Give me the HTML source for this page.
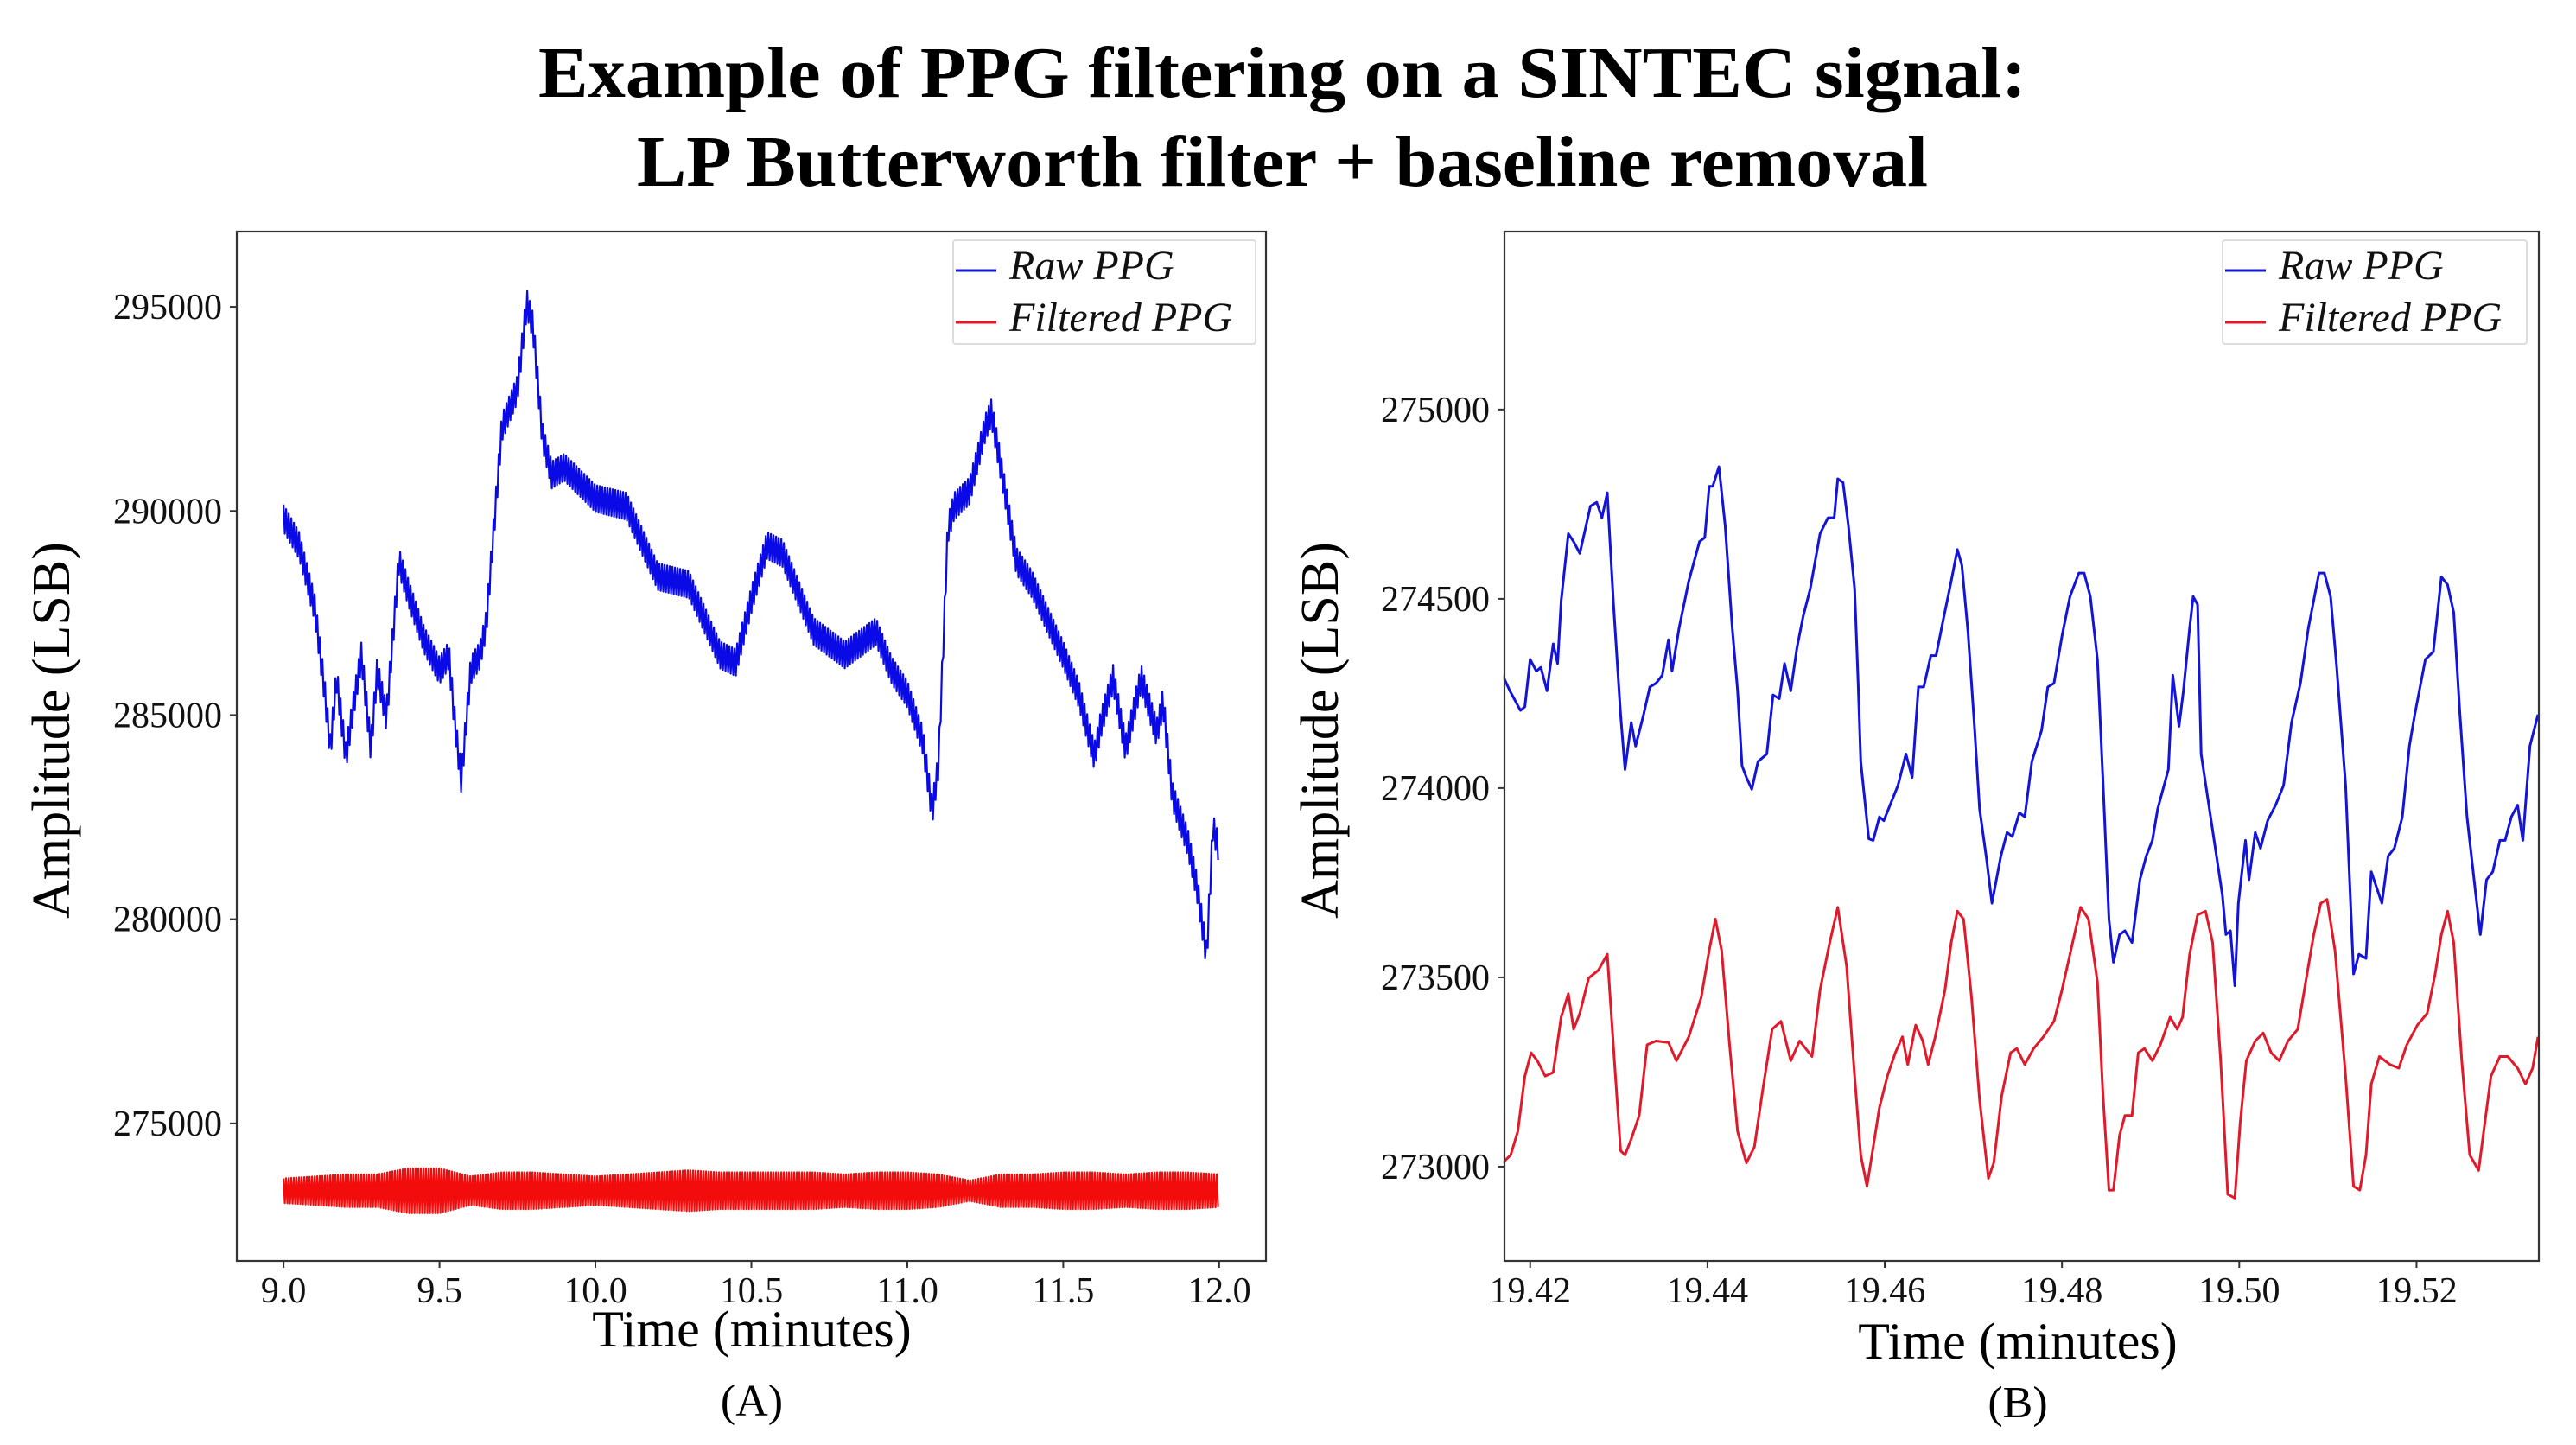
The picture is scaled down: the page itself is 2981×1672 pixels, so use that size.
<!DOCTYPE html>
<html><head><meta charset="utf-8">
<style>
html,body{margin:0;padding:0;background:#fff;}
svg{display:block;font-family:"Liberation Serif","DejaVu Serif",serif;}
</style></head>
<body>
<svg id="fig" width="2981" height="1672" viewBox="0 0 2981 1672" xmlns="http://www.w3.org/2000/svg">
<rect x="0" y="0" width="2981" height="1672" fill="#fff"/>
<text x="1484" y="112" text-anchor="middle" font-size="84" font-weight="bold" textLength="1722" lengthAdjust="spacingAndGlyphs">Example of PPG filtering on a SINTEC signal:</text>
<text x="1484" y="215" text-anchor="middle" font-size="84" font-weight="bold" textLength="1494" lengthAdjust="spacingAndGlyphs">LP Butterworth  filter + baseline removal</text>
<g id="panelA"></g>
<g id="panelB"></g>
</svg>
<script>
// ---------- Panel A data ----------
const rawTimeA = [9.0,9.05,9.1,9.13,9.15,9.17,9.2,9.23,9.25,9.28,9.3,9.33,9.37,9.4,9.45,9.5,9.53,9.55,9.57,9.6,9.63,9.65,9.7,9.75,9.78,9.8,9.83,9.86,9.9,10.0,10.1,10.2,10.3,10.4,10.45,10.5,10.55,10.6,10.7,10.8,10.9,10.95,11.0,11.05,11.08,11.1,11.13,11.15,11.2,11.25,11.27,11.3,11.35,11.4,11.5,11.55,11.6,11.62,11.66,11.7,11.75,11.8,11.82,11.85,11.9,11.93,11.96,11.98,12.0];
const rawValA = [289828,289157,287624,285708,284176,285900,283985,285517,286475,284176,286092,284942,288774,288008,286858,286092,286475,284751,283410,286092,286475,287241,292031,292988,295096,294521,291839,290881,291073,290307,290115,288391,288199,286475,286284,287816,289157,288965,287050,286475,287050,286092,285517,284368,282644,283793,289540,290115,290498,292031,292414,291073,288774,288199,286475,285517,283985,284751,285900,284176,285900,284559,285325,283027,281878,280728,279100,282260,281686];
const rawNoiseA = 330;
const filtTimeA = [9.0,9.1,9.2,9.3,9.4,9.5,9.6,9.7,9.8,9.9,10.0,10.1,10.2,10.3,10.4,10.5,10.6,10.7,10.8,10.9,11.0,11.1,11.2,11.3,11.4,11.5,11.6,11.7,11.8,11.9,12.0];
const filtCenterA = 273350;
const filtSpreadA = [300,350,400,400,550,550,350,450,450,400,350,400,450,500,450,450,450,450,400,450,450,400,250,400,400,450,450,400,450,450,400];
const xTicksA = [9.0,9.5,10.0,10.5,11.0,11.5,12.0];
const xTickLabelsA = ["9.0","9.5","10.0","10.5","11.0","11.5","12.0"];
const yTicksA = [275000,280000,285000,290000,295000];
const yTickLabelsA = ["275000","280000","285000","290000","295000"];

// ---------- Panel B data ----------
const rawTimeB = [19.4169,19.4177,19.4189,19.4194,19.4200,19.4207,19.4212,19.4219,19.4226,19.4231,19.4235,19.4243,19.4249,19.4256,19.4263,19.4268,19.4275,19.4281,19.4287,19.4294,19.4302,19.4307,19.4314,19.4319,19.4328,19.4335,19.4342,19.4349,19.4356,19.4360,19.4368,19.4379,19.4391,19.4397,19.4402,19.4406,19.4413,19.4420,19.4428,19.4434,19.4439,19.4444,19.4450,19.4457,19.4467,19.4474,19.4481,19.4487,19.4494,19.4501,19.4508,19.4516,19.4527,19.4536,19.4543,19.4547,19.4553,19.4559,19.4566,19.4570,19.4573,19.4582,19.4587,19.4594,19.4599,19.4606,19.4615,19.4624,19.4631,19.4638,19.4644,19.4652,19.4658,19.4666,19.4675,19.4682,19.4687,19.4694,19.4701,19.4707,19.4715,19.4721,19.4731,19.4738,19.4744,19.4752,19.4758,19.4766,19.4777,19.4784,19.4791,19.4800,19.4809,19.4819,19.4825,19.4832,19.4840,19.4846,19.4853,19.4858,19.4865,19.4871,19.4879,19.4888,19.4895,19.4902,19.4908,19.4914,19.4920,19.4925,19.4932,19.4937,19.4944,19.4948,19.4953,19.4957,19.4981,19.4985,19.4990,19.4995,19.4999,19.5007,19.5011,19.5018,19.5024,19.5032,19.5041,19.5050,19.5059,19.5069,19.5078,19.5090,19.5096,19.5103,19.5110,19.5120,19.5129,19.5135,19.5143,19.5149,19.5155,19.5161,19.5168,19.5175,19.5184,19.5192,19.5198,19.5210,19.5219,19.5228,19.5235,19.5242,19.5249,19.5257,19.5266,19.5272,19.5279,19.5286,19.5294,19.5300,19.5307,19.5314,19.5320,19.5328,19.5337];
const rawValB = [274298,274257,274205,274215,274340,274309,274319,274257,274381,274329,274495,274672,274651,274620,274693,274745,274755,274714,274780,274485,274194,274049,274173,274111,274194,274267,274277,274298,274392,274309,274423,274547,274651,274662,274797,274797,274849,274693,274423,274257,274059,274028,273997,274070,274090,274246,274236,274329,274257,274371,274454,274527,274672,274714,274714,274817,274807,274693,274527,274277,274070,273866,273862,273924,273914,273955,274007,274090,274028,274267,274267,274350,274350,274444,274547,274630,274589,274412,274173,273945,273810,273696,273820,273883,273872,273935,273924,274070,274153,274267,274277,274402,274506,274568,274568,274506,274340,274028,273654,273540,273613,273623,273592,273758,273820,273862,273945,273997,274049,274298,274163,274257,274423,274506,274485,274090,273717,273613,273623,273478,273696,273862,273758,273883,273841,273914,273955,274007,274173,274277,274423,274568,274568,274506,274319,274007,273509,273561,273550,273779,273737,273696,273820,273841,273924,274111,274194,274340,274360,274558,274537,274464,274194,273924,273737,273613,273758,273779,273862,273862,273924,273955,273862,274111,274194];
const filtTimeB = [19.4169,19.4178,19.4186,19.4194,19.4201,19.4208,19.4217,19.4226,19.4235,19.4243,19.4249,19.4256,19.4266,19.4277,19.4287,19.4295,19.4302,19.4307,19.4314,19.4323,19.4332,19.4342,19.4356,19.4365,19.4379,19.4393,19.4402,19.4409,19.4416,19.4425,19.4434,19.4444,19.4453,19.4462,19.4473,19.4483,19.4494,19.4504,19.4518,19.4527,19.4538,19.4547,19.4557,19.4566,19.4573,19.4580,19.4587,19.4594,19.4603,19.4612,19.4620,19.4626,19.4635,19.4643,19.4649,19.4657,19.4668,19.4675,19.4682,19.4689,19.4698,19.4707,19.4717,19.4723,19.4732,19.4742,19.4749,19.4758,19.4768,19.4779,19.4791,19.4800,19.4812,19.4821,19.4830,19.4840,19.4846,19.4853,19.4858,19.4865,19.4871,19.4879,19.4886,19.4893,19.4902,19.4911,19.4922,19.4930,19.4936,19.4944,19.4953,19.4962,19.4970,19.4979,19.4987,19.4995,19.5001,19.5008,19.5018,19.5027,19.5036,19.5045,19.5055,19.5066,19.5075,19.5084,19.5092,19.5099,19.5108,19.5120,19.5129,19.5136,19.5143,19.5149,19.5158,19.5170,19.5180,19.5189,19.5201,19.5212,19.5221,19.5228,19.5235,19.5242,19.5251,19.5260,19.5270,19.5277,19.5284,19.5294,19.5303,19.5314,19.5323,19.5331,19.5337];
const filtValB = [273010,273031,273093,273239,273301,273280,273239,273249,273395,273457,273363,273405,273498,273519,273561,273280,273042,273031,273073,273135,273322,273332,273328,273280,273343,273447,273571,273654,273571,273322,273093,273010,273052,273197,273363,273384,273280,273332,273291,273467,273592,273685,273530,273239,273031,272948,273052,273156,273239,273301,273343,273270,273374,273332,273270,273343,273467,273592,273675,273654,273447,273177,272969,273010,273187,273301,273312,273270,273312,273343,273384,273467,273592,273685,273654,273488,273197,272938,272938,273083,273135,273135,273301,273312,273280,273322,273395,273363,273395,273561,273665,273675,273592,273280,272927,272917,273114,273280,273332,273353,273301,273280,273332,273363,273488,273613,273696,273706,273571,273239,272948,272938,273031,273218,273291,273270,273260,273322,273374,273405,273509,273613,273675,273592,273280,273031,272990,273114,273239,273291,273291,273260,273218,273260,273343];
const xTicksB = [19.42,19.44,19.46,19.48,19.50,19.52];
const xTickLabelsB = ["19.42","19.44","19.46","19.48","19.50","19.52"];
const yTicksB = [273000,273500,274000,274500,275000];
const yTickLabelsB = ["273000","273500","274000","274500","275000"];

const NS = "http://www.w3.org/2000/svg";
function mk(parent, tag, attrs, text){
  const e = document.createElementNS(NS, tag);
  for (const k in attrs) e.setAttribute(k, attrs[k]);
  if (text !== undefined) e.textContent = text;
  parent.appendChild(e);
  return e;
}
function scale(d0,d1,r0,r1){ return v => r0 + (v-d0)/(d1-d0)*(r1-r0); }
function interp(ts, vs, t){
  if (t <= ts[0]) return vs[0];
  for (let i=1;i<ts.length;i++){ if (t <= ts[i]) { const f=(t-ts[i-1])/(ts[i]-ts[i-1]); return vs[i-1]+f*(vs[i]-vs[i-1]); } }
  return vs[vs.length-1];
}

function drawAxes(g, cfg){
  const {L,R,T,B,xs,ys,xTicks,xLabels,yTicks,yLabels,legendX,legendW,titleX,timeY,capY,capText,ytitleX,panel} = cfg;
  const frame = mk(g,"rect",{x:L,y:T,width:R-L,height:B-T,fill:"none",stroke:"#333",'stroke-width':2.2});
  
  
  xTicks.forEach((v,i)=>{
    const x = xs(v);
    const tk = mk(g,"line",{x1:x,y1:B,x2:x,y2:B+8,stroke:"#333",'stroke-width':2});
    
    
    const lb = mk(g,"text",{x:x,y:B+48,'text-anchor':'middle','font-size':42,fill:'#111'}, xLabels[i]);
    
    
  });
  yTicks.forEach((v,i)=>{
    const y = ys(v);
    const tk = mk(g,"line",{x1:L-8,y1:y,x2:L,y2:y,stroke:"#333",'stroke-width':2});
    
    
    const lb = mk(g,"text",{x:L-17,y:y+14,'text-anchor':'end','font-size':42,fill:'#111'}, yLabels[i]);
    
    
  });
  const xt = mk(g,"text",{x:titleX,y:timeY,'text-anchor':'middle','font-size':60,fill:'#000'},"Time (minutes)");
  
  
  const yt = mk(g,"text",{x:0,y:0,'text-anchor':'middle','font-size':62,fill:'#000',transform:`translate(${ytitleX},845) rotate(-90)`},"Amplitude (LSB)");
  
  
  const cap = mk(g,"text",{x:titleX,y:capY,'text-anchor':'middle','font-size':52,fill:'#000'},capText);
  
  
  const lg = mk(g,"g",{});
  
  
  mk(lg,"rect",{x:legendX,y:278,width:legendW,height:120,fill:"#fff",stroke:"#ddd",'stroke-width':2,rx:3});
  const e1 = mk(lg,"g",{});
  
  
  mk(e1,"line",{x1:legendX+3,y1:313,x2:legendX+50,y2:313,stroke:"#1414d8",'stroke-width':3});
  mk(e1,"text",{x:legendX+65,y:323,'font-size':48,'font-style':'italic',fill:'#111'},"Raw PPG");
  const e2 = mk(lg,"g",{});
  
  
  mk(e2,"line",{x1:legendX+3,y1:373,x2:legendX+50,y2:373,stroke:"#e01a2a",'stroke-width':3});
  mk(e2,"text",{x:legendX+65,y:383,'font-size':48,'font-style':'italic',fill:'#111'},"Filtered PPG");
}

// ---------- Panel A ----------
(function(){
  const g = document.getElementById("panelA");
  const L=274,R=1465,T=268,B=1459;
  const xs = scale(8.85,12.15,L,R);
  const ys = scale(271631,296843,B,T);
  let d="", k=0;
  for (let x=xs(9.0); x<=xs(12.0)+0.1; x+=1.5, k++){
    const t = 9.0 + (x-xs(9.0))/(xs(12.0)-xs(9.0))*3.0;
    const s = interp(filtTimeA, filtSpreadA, t);
    const v = filtCenterA + (k%2===0 ? s : -s);
    d += (k===0?"M":"L")+x.toFixed(1)+","+ys(v).toFixed(1);
  }
  const fl = mk(g,"path",{d:d,fill:"none",stroke:"#f20c0c",'stroke-width':2.2,'stroke-linejoin':'round'});
  
  
  d=""; k=0;
  for (let x=xs(9.0); x<=xs(12.0)+0.1; x+=1.5, k++){
    const t = 9.0 + (x-xs(9.0))/(xs(12.0)-xs(9.0))*3.0;
    const v = interp(rawTimeA, rawValA, t) + (k%2===0 ? rawNoiseA : -rawNoiseA);
    d += (k===0?"M":"L")+x.toFixed(1)+","+ys(v).toFixed(1);
  }
  const rl = mk(g,"path",{d:d,fill:"none",stroke:"#0a0ae6",'stroke-width':2.2,'stroke-linejoin':'round'});
  
  
  drawAxes(g,{L,R,T,B,xs,ys,xTicks:xTicksA,xLabels:xTickLabelsA,yTicks:yTicksA,yLabels:yTickLabelsA,
    legendX:1103,legendW:350,titleX:870,timeY:1558,capY:1638,capText:"(A)",ytitleX:80,panel:'panel-a'});
})();

// ---------- Panel B ----------
(function(){
  const g = document.getElementById("panelB");
  const L=1741,R=2938,T=268,B=1459;
  const xs = scale(19.4171,19.5338,L,R);
  const ys = scale(272751,275470,B,T);
  let d = rawTimeB.map((t,i)=>(i?"L":"M")+xs(t).toFixed(1)+","+ys(rawValB[i]).toFixed(1)).join("");
  const rl = mk(g,"path",{d:d,fill:"none",stroke:"#1414d8",'stroke-width':3,'stroke-linejoin':'round'});
  
  
  d = filtTimeB.map((t,i)=>(i?"L":"M")+xs(t).toFixed(1)+","+ys(filtValB[i]).toFixed(1)).join("");
  const fl = mk(g,"path",{d:d,fill:"none",stroke:"#e01a2a",'stroke-width':3,'stroke-linejoin':'round'});
  
  
  mk(g,"rect",{x:R+1.2,y:T,width:40,height:B-T,fill:"#fff"});
  mk(g,"rect",{x:L-40,y:T,width:38.8,height:B-T,fill:"#fff"});
  drawAxes(g,{L,R,T,B,xs,ys,xTicks:xTicksB,xLabels:xTickLabelsB,yTicks:yTicksB,yLabels:yTickLabelsB,
    legendX:2572,legendW:352,titleX:2335,timeY:1572,capY:1640,capText:"(B)",ytitleX:1548,panel:'panel-b'});
})();
</script>
</body></html>
